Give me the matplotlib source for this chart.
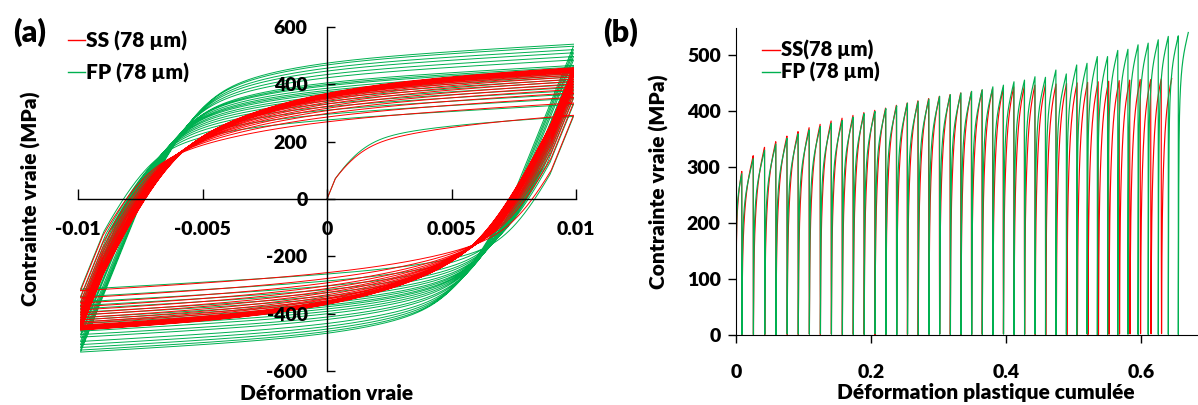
import numpy as np
import matplotlib
matplotlib.use("Agg")
import matplotlib.pyplot as plt
from matplotlib.lines import Line2D

plt.rcParams['font.family'] = ['Lato', 'DejaVu Sans']
plt.rcParams['font.weight'] = 'heavy'
plt.rcParams['axes.labelweight'] = 'heavy'

# ---------------- data ----------------
labels_a = ["SS (78 µm)", "FP (78 µm)"]
labels_b = ["SS(78 µm)", "FP (78 µm)"]
colors = ["#FF0000", "#00B050"]

# |true stress| (MPa) reached at the end of every half-cycle (peaks of panel b)
ss_peaks = [292, 320, 335, 345, 355, 363, 370, 376, 382, 387,
            392, 397, 401, 405, 410, 414, 418, 422, 426, 429,
            432, 434, 437, 440, 441, 443, 444, 446, 447, 448,
            449, 450, 451, 452, 453, 454, 455, 456, 456, 457,
            458]
fp_peaks = [288, 315, 330, 341, 351, 359, 366, 372, 378, 383,
            389, 395, 399, 404, 409, 414, 417, 421, 426, 429,
            432, 435, 438, 443, 446, 452, 455, 461, 460, 473,
            466, 482, 485, 497, 497, 508, 510, 518, 521, 527,
            533, 534, 540]

xticks_a = [-0.01, -0.005, 0, 0.005, 0.01]
xticklabels_a = ["-0.01", "-0.005", "0", "0.005", "0.01"]
yticks_a = [-600, -400, -200, 0, 200, 400, 600]
yticklabels_a = ["-600", "-400", "-200", "0", "200", "400", "600"]
xticks_b = [0, 0.2, 0.4, 0.6]
xticklabels_b = ["0", "0.2", "0.4", "0.6"]
yticks_b = [0, 100, 200, 300, 400, 500]
yticklabels_b = ["0", "100", "200", "300", "400", "500"]

# ---------------- material constants (branch shape) ----------------
E = 215000.0          # MPa
EPS_A = 0.0099        # strain amplitude
YIELD0 = 70.0         # first yield (MPa)
# per series (SS, FP): elastic range after reversal = base + slope * (previous peak - 330)
RANGE_BASE = [190.0, 200.0]
RANGE_SLOPE = [0.0, 1.5]
FAST_WEIGHT = [0.575, 0.7]
SLOW_RATE = [300.0, 400.0]
G1, H = 2000.0, 5000.0


def shape(q, w, g2):
    return w * (1 - np.exp(-G1 * q)) + (1 - w) * (1 - np.exp(-g2 * q))


def build(peaks, r_base, r_slope, w, g2):
    eps_all, sig_all, p_all, abs_all = [], [], [], []
    p_cum = 0.0
    t = np.linspace(0, 1, 400)
    for k, pk in enumerate(peaks):
        s = 1.0 if k % 2 == 0 else -1.0
        if k == 0:
            start, sig_prev, eps_rev = YIELD0, 0.0, 0.0
            dp = EPS_A - pk / E
        else:
            rng = max(r_base, r_base + r_slope * (peaks[k - 1] - 330))
            start = -peaks[k - 1] + rng
            sig_prev = -s * peaks[k - 1]
            eps_rev = -s * EPS_A
            dp = 2 * EPS_A - (pk + peaks[k - 1]) / E
        q = dp * t ** 2
        f = start + (pk - start - H * dp) * shape(q, w, g2) / shape(dp, w, g2) + H * q
        sig = s * f
        eps = eps_rev + s * q + (sig - sig_prev) / E
        eps_all += [eps_rev] + list(eps)
        sig_all += [sig_prev] + list(sig)
        if start > 0:
            p_all.append(p_cum)
            abs_all.append(0.0)
        p_all += list(p_cum + q)
        abs_all += list(np.abs(sig))
        p_cum += dp
    return (np.array(eps_all), np.array(sig_all),
            np.array(p_all), np.array(abs_all))


curves = [build(pk, RANGE_BASE[i], RANGE_SLOPE[i], FAST_WEIGHT[i], SLOW_RATE[i])
          for i, pk in enumerate([ss_peaks, fp_peaks])]

W_PX, H_PX = 1198, 405
fig = plt.figure(figsize=(W_PX / 100, H_PX / 100), dpi=100)

# ---------------- panel (a) ----------------
axa = fig.add_axes([78 / W_PX, 1 - 371 / H_PX, 498 / W_PX, 344 / H_PX])
for i in [1, 0]:           # red drawn over green
    eps, sig, _, _ = curves[i]
    axa.plot(eps, sig, color=colors[i], lw=0.7, zorder=1)
axa.set_xlim(-0.01, 0.01)
axa.set_ylim(-600, 600)
axa.spines['left'].set_position(('data', 0))
axa.spines['bottom'].set_position(('data', 0))
for sp in ('right', 'top'):
    axa.spines[sp].set_visible(False)
for sp in ('left', 'bottom'):
    axa.spines[sp].set_linewidth(1.0)
axa.set_xticks(xticks_a, xticklabels_a)
axa.set_yticks(yticks_a, yticklabels_a)
axa.tick_params(axis='x', direction='in', length=7, width=1, pad=16, labelsize=14)
axa.tick_params(axis='y', direction='in', length=6, width=1, pad=14, labelsize=14)
axa.patch.set_visible(False)
axa.set_xlabel("Déformation vraie", fontsize=15)
axa.xaxis.set_label_coords(0.5, -0.065)
axa.xaxis.label.set_va('center')
axa.set_ylabel("Contrainte vraie (MPa)", fontsize=15)
axa.yaxis.set_label_coords((31 - 78) / 498, 0.5)
axa.yaxis.label.set_va('center')
handles = [Line2D([], [], color=c, lw=1.0) for c in colors]
axa.legend(handles, labels_a, loc='upper left',
           bbox_to_anchor=(68 / W_PX, 1 - 31 / H_PX), bbox_transform=fig.transFigure,
           frameon=False, fontsize=15, handlelength=0.8, handletextpad=0.05,
           borderpad=0, borderaxespad=0, labelspacing=0.55)
fig.text(30 / W_PX, 1 - 32 / H_PX, "(a)", fontsize=22, ha='center', va='center')

# ---------------- panel (b) ----------------
axb = fig.add_axes([736 / W_PX, 1 - 335 / H_PX, (W_PX - 736) / W_PX, 307 / H_PX])
for i in [0, 1]:           # green drawn over red
    _, _, p, a = curves[i]
    axb.plot(p, a, color=colors[i], lw=0.85, zorder=1)
axb.set_xlim(0, (W_PX - 736) / 675)
axb.set_ylim(0, 548)
for sp in ('right', 'top'):
    axb.spines[sp].set_visible(False)
axb.set_xticks(xticks_b, xticklabels_b)
axb.set_yticks(yticks_b, yticklabels_b)
axb.tick_params(axis='both', direction='out', length=6, width=1, labelsize=14)
axb.tick_params(axis='x', pad=15)
axb.tick_params(axis='y', pad=5)
axb.set_xlabel("Déformation plastique cumulée", fontsize=15)
axb.xaxis.set_label_coords((986 - 736) / (W_PX - 736), -(392 - 335) / 307)
axb.xaxis.label.set_va('center')
axb.set_ylabel("Contrainte vraie (MPa)", fontsize=15)
axb.yaxis.set_label_coords((659 - 736) / (W_PX - 736), 0.5)
axb.yaxis.label.set_va('center')
axb.legend(handles, labels_b, loc='upper left',
           bbox_to_anchor=(762 / W_PX, 1 - 40 / H_PX), bbox_transform=fig.transFigure,
           frameon=False, fontsize=14.5, handlelength=0.9, handletextpad=0.05,
           borderpad=0, borderaxespad=0, labelspacing=0.1)
fig.text(621 / W_PX, 1 - 32 / H_PX, "(b)", fontsize=22, ha='center', va='center')

fig.savefig("out.png", dpi=100)
